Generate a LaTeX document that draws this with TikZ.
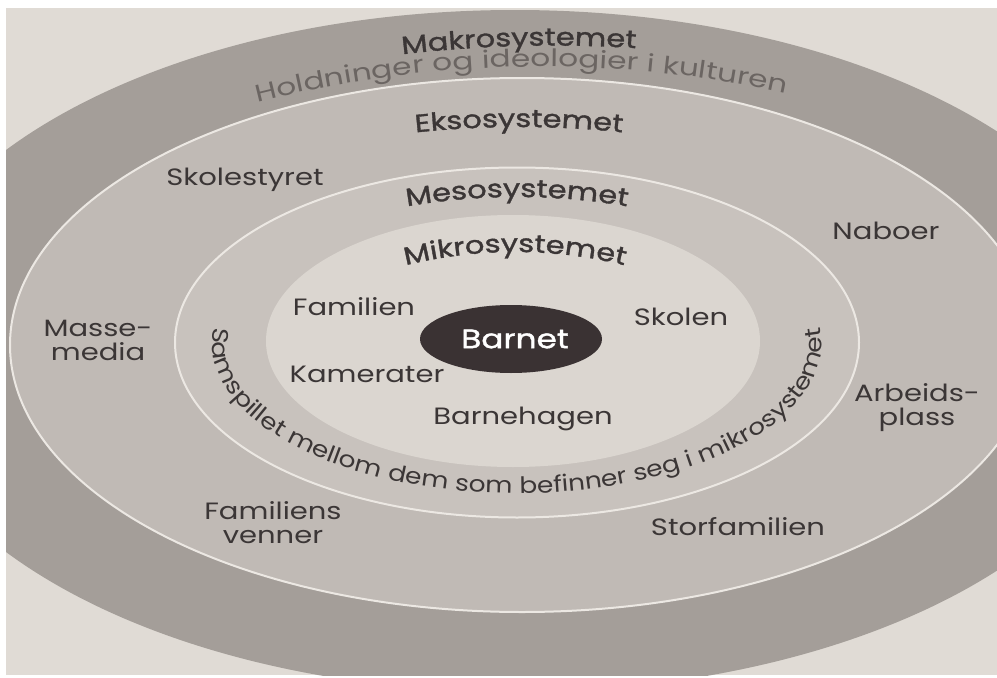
\documentclass[tikz,border=0pt]{standalone}
\usepackage{fontspec}
\setmainfont{Poppins}
\newfontfamily\labfont[FakeStretch=1.23]{Poppins}
\newfontfamily\softfont[FakeStretch=1.3]{Poppins}
\newfontfamily\arcfont[FakeStretch=1.17]{Poppins}
\newfontfamily\headfont[FakeStretch=1.23, FakeBold=1.4]{Poppins}
\usetikzlibrary{decorations.text,shapes.geometric}
\definecolor{pagec}{HTML}{E0DBD5}
\definecolor{makroc}{HTML}{A49E99}
\definecolor{eksoc}{HTML}{C0BAB5}
\definecolor{mesoc}{HTML}{C8C2BD}
\definecolor{mikroc}{HTML}{DBD6D0}
\definecolor{linec}{HTML}{ECE8E3}
\definecolor{barnc}{HTML}{3A3233}
\definecolor{txtc}{HTML}{3B3636}
\definecolor{softc}{HTML}{6B6562}
\begin{document}
\begin{tikzpicture}[x=0.5pt,y=0.5pt,
  lab/.style={font=\labfont\fontsize{11.8}{12}\selectfont, text=txtc, align=center, inner sep=0pt},
  ringline/.style={draw=linec, line width=1pt},
  curvetext/.style={decorate, decoration={text along path, text align=center, text color=#1}}]
\useasboundingbox (0,0) rectangle (997,677);
\fill[white] (0,0) rectangle (997,677);
\fill[pagec] (6,2) rectangle (997,669);
\begin{scope}
\clip (6,2) rectangle (997,669);
\fill[makroc] (515,326) ellipse [x radius=630, y radius=341];
\path[fill=eksoc, ringline] (522,332) ellipse [x radius=512, y radius=267];
\path[fill=mesoc, ringline] (517,334.5) ellipse [x radius=342, y radius=175];
\path[fill=mikroc] (513,336) ellipse [x radius=247, y radius=126];
\end{scope}
\node[ellipse, fill=barnc, minimum width=91pt, minimum height=34pt, inner sep=0pt] (barnet) at (511,338) {};
\node[lab, text=white, font=\headfont\fontsize{13.3}{14}\selectfont] (barnettxt) at (515,338) {Barnet};
% curved headings
\path[curvetext=txtc, rotate around={1.5:(519,631)}, decoration={text={|\headfont\fontsize{12.4}{14}\selectfont|Makrosystemet}}]
  (248.7,602.6) arc[start angle=102, end angle=78, radius=1300];
\path[curvetext=softc, rotate around={1:(521,610)}, decoration={text={|\softfont\fontsize{12}{14}\selectfont|Holdninger og ideologier i kulturen}}]
  (71.7,518.6) arc[start angle=113, end angle=67, radius=1150];
\path[curvetext=txtc, decoration={text={|\headfont\fontsize{12.4}{14}\selectfont|Eksosystemet}}]
  (311.1,528.1) arc[start angle=102, end angle=78, radius=1000];
\path[curvetext=txtc, decoration={text={|\headfont\fontsize{12.4}{14}\selectfont|Mesosystemet}}]
  (294.7,440.8) arc[start angle=110, end angle=70, radius=650];
\path[curvetext=txtc, decoration={text={|\headfont\fontsize{12.4}{14}\selectfont|Mikrosystemet}}]
  (322.3,382.3) arc[start angle=115, end angle=65, radius=456];
\path[curvetext=txtc, decoration={text={|\arcfont\fontsize{11.3}{13}\selectfont|Samspillet mellom dem som befinner seg i mikrosystemet}}]
  (216.63,360.72) arc[start angle=170, end angle=370, x radius=305, y radius=151];
% labels
\node[lab] (skolestyret) at (245,497) {Skolestyret};
\node[lab] (massemedia) at (98,337) {Masse-\\media};
\node[lab] (familien) at (354,370) {Familien};
\node[lab] (skolen) at (681,360) {Skolen};
\node[lab] (naboer) at (886,446) {Naboer};
\node[lab] (kamerater) at (367,303) {Kamerater};
\node[lab] (barnehagen) at (523,258) {Barnehagen};
\node[lab] (arbeid) at (917,269) {Arbeids-\\plass};
\node[lab] (storfam) at (738,150) {Storfamilien};
\node[lab] (famvenn) at (273,154) {Familiens\\venner};
\end{tikzpicture}
\end{document}
